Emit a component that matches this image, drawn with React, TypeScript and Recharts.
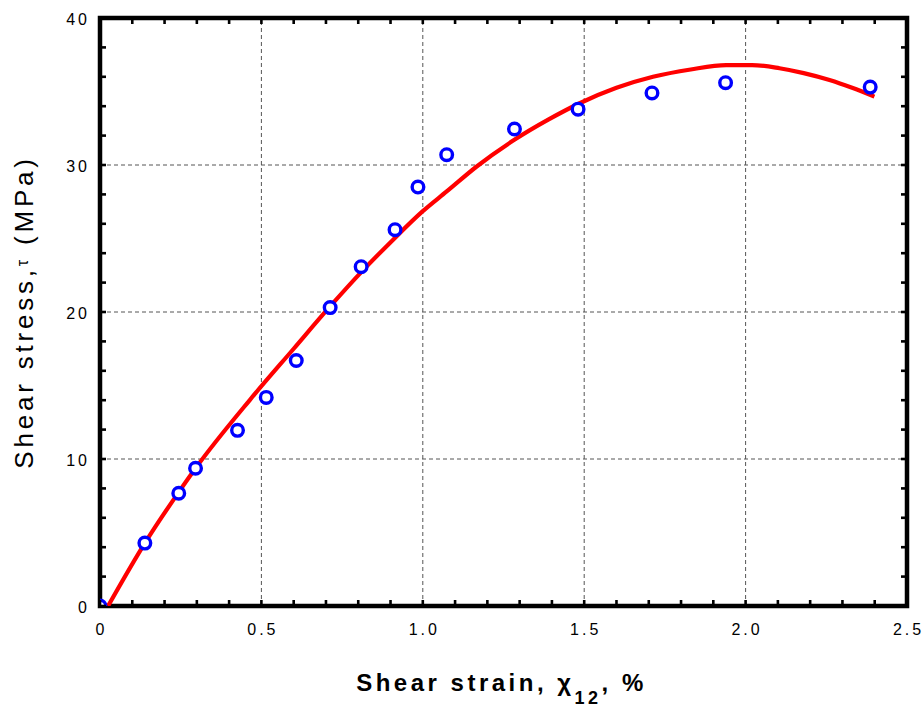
import React from "react"
import {
  ComposedChart,
  Line,
  Scatter,
  XAxis,
  YAxis,
  ReferenceArea,
  ReferenceLine,
} from "recharts"

// measured points (shear strain %, shear stress MPa)
const strain = [0, 0.139, 0.244, 0.296, 0.426, 0.515, 0.608, 0.713, 0.809, 0.914, 0.985, 1.074, 1.284, 1.481, 1.71, 1.938, 2.386]
const stress = [0, 4.28, 7.67, 9.37, 11.95, 14.19, 16.7, 20.3, 23.08, 25.6, 28.5, 30.7, 32.45, 33.8, 34.9, 35.6, 35.3]

// fitted curve
const fitStrain = [0.025, 0.139, 0.244, 0.296, 0.464, 0.6, 0.712, 0.813, 0.898, 1.0, 1.074, 1.167, 1.28, 1.39, 1.486, 1.6, 1.713, 1.83, 1.94, 2.02, 2.105, 2.18, 2.26, 2.33, 2.399]
const fitStress = [0, 4.28, 7.75, 9.37, 14.01, 17.5, 20.36, 22.8, 24.7, 26.86, 28.2, 29.9, 31.66, 33.1, 34.2, 35.25, 36.0, 36.5, 36.8, 36.8, 36.58, 36.25, 35.78, 35.25, 34.65]

const xTicks = [0, 0.5, 1.0, 1.5, 2.0, 2.5]
const xTickLabels = ["0", "0.5", "1.0", "1.5", "2.0", "2.5"]
const yTicks = [0, 10, 20, 30, 40]
const yTickLabels = ["0", "10", "20", "30", "40"]
const xMinor = [0, 0.1, 0.2, 0.3, 0.4, 0.5, 0.6, 0.7, 0.8, 0.9, 1.0, 1.1, 1.2, 1.3, 1.4, 1.5, 1.6, 1.7, 1.8, 1.9, 2.0, 2.1, 2.2, 2.3, 2.4, 2.5]
const yMinor = [0, 2, 4, 6, 8, 10, 12, 14, 16, 18, 20, 22, 24, 26, 28, 30, 32, 34, 36, 38, 40]

const points = strain.map((x, i) => ({ x, y: stress[i] }))
const fit = fitStrain.map((x, i) => ({ x, y: fitStress[i] }))

const FONT = "'Liberation Sans', Arial, sans-serif"
const W = 923
const H = 707
const M = { top: 18, right: 16, left: 0, bottom: 0 }
const TICK_LEN = 6

// bottom axis tick: inward marks at bottom and top of the frame, label on majors
function XTick({ x, y, payload }: any) {
  const i = xTicks.indexOf(payload.value)
  return (
    <g>
      <line x1={x} y1={y} x2={x} y2={y - TICK_LEN} stroke="#000" strokeWidth={2.6} />
      <line x1={x} y1={M.top} x2={x} y2={M.top + TICK_LEN} stroke="#000" strokeWidth={2.6} />
      {i >= 0 && (
        <text x={x + 1.5} y={y + 29} textAnchor="middle" fontSize={16} letterSpacing={3} fontFamily={FONT} fill="#000">
          {xTickLabels[i]}
        </text>
      )}
    </g>
  )
}

// left axis tick: inward marks at left and right of the frame, label on majors
function YTick({ x, y, payload }: any) {
  const i = yTicks.indexOf(payload.value)
  const right = W - M.right
  return (
    <g>
      <line x1={x} y1={y} x2={x + TICK_LEN} y2={y} stroke="#000" strokeWidth={2.6} />
      <line x1={right} y1={y} x2={right - TICK_LEN} y2={y} stroke="#000" strokeWidth={2.6} />
      {i >= 0 && (
        <text x={x - 10} y={y + 7} textAnchor="end" fontSize={16} letterSpacing={3} fontFamily={FONT} fill="#000">
          {yTickLabels[i]}
        </text>
      )}
    </g>
  )
}

function Ring({ cx, cy }: any) {
  return <circle cx={cx} cy={cy} r={5.8} fill="#fff" stroke="#0000ff" strokeWidth={3.4} />
}

function XLabel({ viewBox }: any) {
  const cx = viewBox.x + viewBox.width / 2
  return (
    <text x={cx - 2} y={viewBox.y + 85} textAnchor="middle" fontSize={24} fontWeight="bold" letterSpacing={3.5} fontFamily={FONT} fill="#000">
      Shear strain, χ
      <tspan fontSize={18} dy={13}>12</tspan>
      <tspan dy={-13}>, %</tspan>
    </text>
  )
}

function YLabel({ viewBox }: any) {
  const cy = viewBox.y + viewBox.height / 2
  return (
    <text x={33} y={cy} transform={`rotate(-90, 33, ${cy})`} textAnchor="middle" fontSize={26} letterSpacing={3.8} fontFamily={FONT} fill="#000">
      Shear stress,
      <tspan fontSize={16} dy={-5}>τ</tspan>
      <tspan dy={5}> (MPa)</tspan>
    </text>
  )
}

export default function App() {
  return (
    <div style={{ position: "absolute", left: 0, top: 0, background: "#fff" }}>
      <ComposedChart width={W} height={H} margin={M}>
        {xTicks.slice(1, -1).map((v) => (
          <ReferenceLine key={`gx${v}`} x={v} stroke="#555" strokeDasharray="4 3" strokeWidth={1} />
        ))}
        {yTicks.slice(1, -1).map((v) => (
          <ReferenceLine key={`gy${v}`} y={v} stroke="#555" strokeDasharray="4 3" strokeWidth={1} />
        ))}
        <XAxis
          dataKey="x"
          type="number"
          domain={[0, 2.5]}
          ticks={xMinor}
          interval={0}
          height={101}
          tickLine={false}
          tickSize={0}
          tickMargin={0}
          axisLine={false}
          tick={<XTick />}
          allowDataOverflow
          label={{ content: (p: any) => <XLabel {...p} /> }}
        />
        <YAxis
          dataKey="y"
          type="number"
          domain={[0, 40]}
          ticks={yMinor}
          interval={0}
          width={100}
          tickLine={false}
          tickSize={0}
          tickMargin={0}
          axisLine={false}
          tick={<YTick />}
          allowDataOverflow
          label={{ content: (p: any) => <YLabel {...p} /> }}
        />
        <Line
          data={fit}
          dataKey="y"
          type="monotone"
          stroke="#ff0000"
          strokeWidth={4.2}
          dot={false}
          isAnimationActive={false}
        />
        <Scatter data={points} dataKey="y" shape={<Ring />} isAnimationActive={false} />
        <ReferenceArea
          x1={0}
          x2={2.5}
          y1={0}
          y2={40}
          fill="none"
          fillOpacity={0}
          stroke="#000"
          strokeWidth={4.5}
          ifOverflow="visible"
        />
      </ComposedChart>
    </div>
  )
}
